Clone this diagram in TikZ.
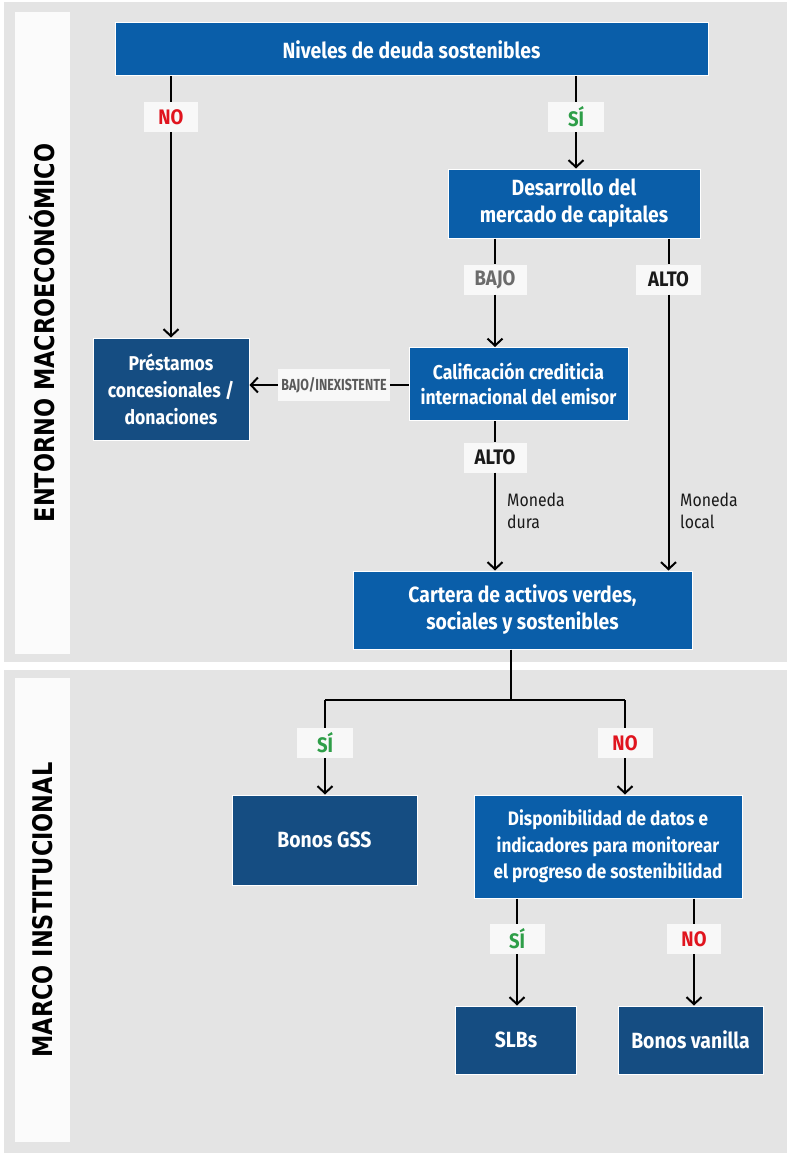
\documentclass[tikz,border=0pt]{standalone}
\usepackage{fontspec}
\usetikzlibrary{arrows.meta}
\newfontfamily\boxfont{Fira Sans}[FakeStretch=0.88]
\newfontfamily\narrowfont{Fira Sans}[FakeStretch=0.78]
\newfontfamily\sidefont{DejaVu Sans}[FakeStretch=0.83]
\definecolor{bgGray}{HTML}{E4E4E4}
\definecolor{barWhite}{HTML}{FBFBFB}
\definecolor{midBlue}{HTML}{0A5EA9}
\definecolor{darkBlue}{HTML}{154D82}
\definecolor{lblFill}{HTML}{F8F8F8}
\definecolor{noRed}{HTML}{E0141E}
\definecolor{siGreen}{HTML}{2E9E48}
\definecolor{bajoGray}{HTML}{6B6B6B}
\definecolor{biGray}{HTML}{5A5A5A}
\definecolor{altoBlack}{HTML}{1A1A1A}
\tikzset{
  boxbase/.style={rectangle, draw=white, line width=1pt, inner sep=0pt, align=center,
    text=white, font=\boxfont\bfseries\fontsize{22}{27}\selectfont},
  midbox/.style={boxbase, fill=midBlue},
  darkbox/.style={boxbase, fill=darkBlue},
  lbl/.style={rectangle, fill=lblFill, inner sep=0pt, minimum height=30pt,
    font=\boxfont\bfseries\fontsize{21}{21}\selectfont},
  conn/.style={line width=2pt, black},
  arr/.style={conn, -{Straight Barb[length=7pt,width=15pt]}},
  sidetext/.style={rotate=90, font=\sidefont\bfseries\fontsize{27}{27}\selectfont, text=black},
  note/.style={anchor=west, align=left, inner sep=0pt, text=altoBlack,
    font=\boxfont\fontsize{18}{22}\selectfont}
}
\begin{document}
\begin{tikzpicture}[x=1pt,y=-1pt]
\useasboundingbox (0,0) rectangle (790,1153);
\fill[white] (0,0) rectangle (790,1153);
% panels
\fill[bgGray] (4,2) rectangle (787,662);
\fill[bgGray] (4,670) rectangle (787,1153);
\fill[barWhite] (15,12) rectangle (70,654);
\fill[barWhite] (15,678) rectangle (70,1142);
\node[sidetext] (side1) at (42.5,333) {ENTORNO MACROECONÓMICO};
\node[sidetext] (side2) at (42.5,910) {MARCO INSTITUCIONAL};

% boxes
\node[midbox, minimum width=593pt, minimum height=53pt] (niv) at (411.5,49.5) {Niveles de deuda sostenibles};
\node[midbox, minimum width=252pt, minimum height=69pt] (des) at (574,203.5) {Desarrollo del\\mercado de capitales};
\node[midbox, minimum width=219pt, minimum height=73pt,
  font=\boxfont\bfseries\fontsize{20}{25}\selectfont] (cal) at (518.5,384) {Calificación crediticia\\internacional del emisor};
\node[darkbox, minimum width=156pt, minimum height=102pt,
  font=\boxfont\bfseries\fontsize{20}{27}\selectfont] (pre) at (171,389) {Préstamos\\concesionales /\\donaciones};
\node[midbox, minimum width=339pt, minimum height=78pt] (car) at (522.5,610) {Cartera de activos verdes,\\sociales y sostenibles};
\node[darkbox, minimum width=185pt, minimum height=90pt] (gss) at (324.5,840) {Bonos GSS};
\node[midbox, minimum width=268pt, minimum height=103pt,
  font=\boxfont\bfseries\fontsize{19.5}{26.5}\selectfont] (dis) at (608,846.5) {Disponibilidad de datos e\\indicadores para monitorear\\el progreso de sostenibilidad};
\node[darkbox, minimum width=121pt, minimum height=68pt] (slb) at (516,1040) {SLBs};
\node[darkbox, minimum width=145pt, minimum height=68pt] (van) at (690.5,1040) {Bonos vanilla};

% labels
\node[lbl, minimum width=54pt, text=noRed] (lno1) at (171,117) {NO};
\node[lbl, minimum width=56pt, text=siGreen] (lsi1) at (576,117) {SÍ};
\node[lbl, minimum width=63pt, text=bajoGray] (lbajo) at (495,279.5) {BAJO};
\node[lbl, minimum width=65pt, text=altoBlack] (lalto1) at (668.5,279.5) {ALTO};
\node[lbl, minimum width=112pt, minimum height=32pt, text=biGray,
  font=\narrowfont\bfseries\fontsize{16}{16}\selectfont] (lbi) at (334,385) {BAJO/INEXISTENTE};
\node[lbl, minimum width=63pt, text=altoBlack] (lalto2) at (495,457.5) {ALTO};
\node[lbl, minimum width=56pt, text=siGreen] (lsi2) at (325,743) {SÍ};
\node[lbl, minimum width=55pt, text=noRed] (lno2) at (625,743) {NO};
\node[lbl, minimum width=55pt, text=siGreen] (lsi3) at (517,939) {SÍ};
\node[lbl, minimum width=54pt, text=noRed] (lno3) at (694,939) {NO};

\node[note] (mdura) at (507,511) {Moneda\\dura};
\node[note] (mlocal) at (680,511) {Moneda\\local};

\coordinate (split) at (510.5,700);

% connectors
\draw[conn] (niv.south -| lno1) -- (lno1.north);
\draw[arr] (lno1.south) -- (pre.north -| lno1);
\draw[conn] (niv.south -| lsi1) -- (lsi1.north);
\draw[arr] (lsi1.south) -- (des.north -| lsi1);
\draw[conn] (des.south -| lbajo) -- (lbajo.north);
\draw[arr] (lbajo.south) -- (cal.north -| lbajo);
\draw[conn] (des.south -| lalto1) -- (lalto1.north);
\draw[arr] (lalto1.south) -- (car.north -| lalto1);
\draw[conn] (cal.west |- lbi) -- (lbi.east);
\draw[arr] (lbi.west) -- (pre.east |- lbi);
\draw[conn] (cal.south -| lalto2) -- (lalto2.north);
\draw[arr] (lalto2.south) -- (car.north -| lalto2);
\draw[conn] (car.south -| split) -- (split);
\draw[conn] (split -| lsi2) -- (split -| lno2);
\draw[conn] (split -| lsi2) -- (lsi2.north);
\draw[conn] (split -| lno2) -- (lno2.north);
\draw[arr] (lsi2.south) -- (gss.north -| lsi2);
\draw[arr] (lno2.south) -- (dis.north -| lno2);
\draw[conn] (dis.south -| lsi3) -- (lsi3.north);
\draw[arr] (lsi3.south) -- (slb.north -| lsi3);
\draw[conn] (dis.south -| lno3) -- (lno3.north);
\draw[arr] (lno3.south) -- (van.north -| lno3);
\end{tikzpicture}
\end{document}
